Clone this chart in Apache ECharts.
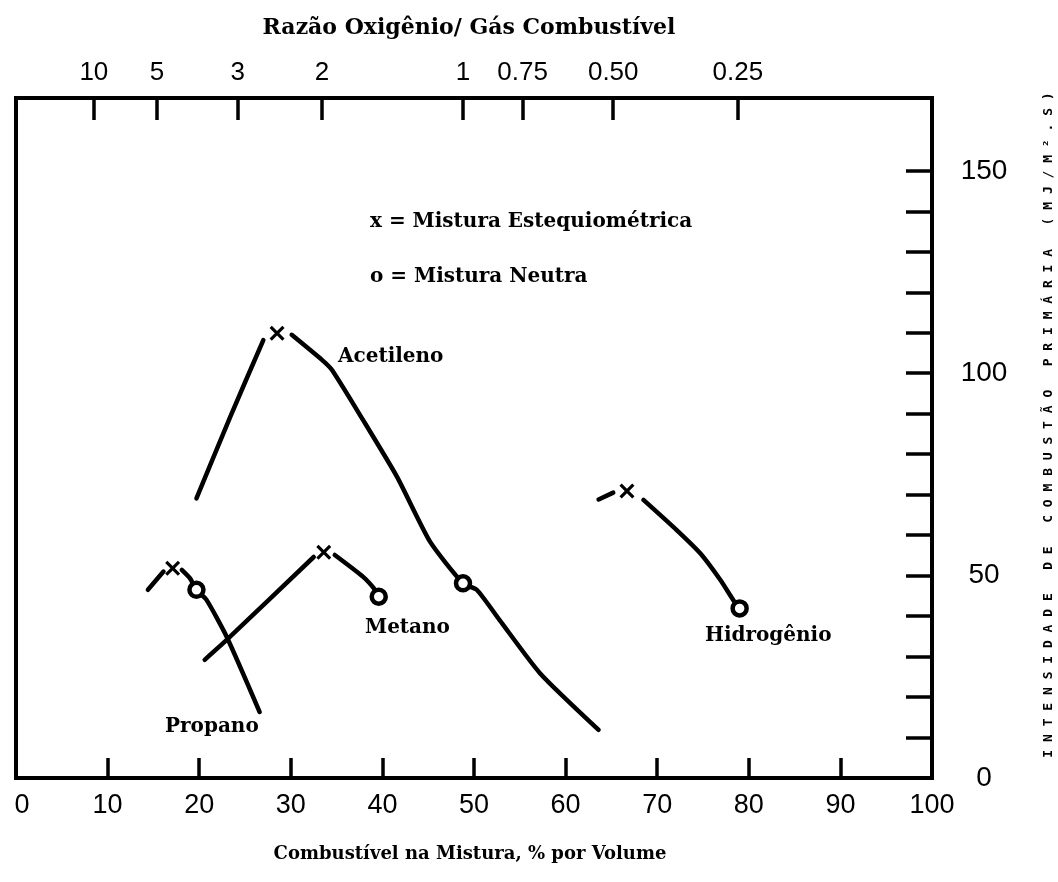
<!DOCTYPE html>
<html>
<head>
<meta charset="utf-8">
<script src="https://cdn.jsdelivr.net/npm/echarts@6/dist/echarts.min.js"></script>
<style>
  html, body { margin: 0; padding: 0; background: #fff; }
  #chart { width: 1058px; height: 882px; }
</style>
</head>
<body>
<div id="chart"></div>
<script>
// bottom axis: fuel in the mixture, % by volume
const bottomTicks = [10, 20, 30, 40, 50, 60, 70, 80, 90];
// top axis: oxygen / fuel gas ratio, placed at the matching fuel %
const topTickPos = [8.5, 15.4, 24.2, 33.4, 48.8, 55.3, 65.2, 78.8];
const topTickLabels = ['10', '5', '3', '2', '1', '0.75', '0.50', '0.25'];
// right axis: primary combustion intensity
const rightTicks = [10, 20, 30, 40, 50, 60, 70, 80, 90, 100, 110, 120, 130, 140, 150];
const rightLabels = [0, 50, 100, 150];

// curves, [fuel %, intensity]; split where the line is broken by an "x"
const acetilenoLeft = [[19.7, 69.1], [23.4, 89.3], [27.0, 108.2]];
const acetilenoRight = [[30.1, 109.5], [33.4, 103.3], [34.5, 100.8], [37.9, 88.4], [41.6, 74.4],
  [45.2, 58.4], [48.8, 48.1], [50.3, 46.5], [52.8, 39.0], [57.2, 25.9], [63.6, 11.9]];
const propanoLeft = [[14.4, 46.5], [16.1, 51.0]];
const propanoRight = [[18.1, 51.4], [19.0, 49.3], [19.7, 46.5], [20.8, 44.0], [23.0, 34.9], [26.6, 16.3]];
const metanoLeft = [[20.6, 29.2], [23.0, 34.1], [32.5, 54.6]];
const metanoRight = [[34.8, 55.1], [37.9, 49.7], [39.2, 46.5], [39.6, 44.8]];
const hidrogenioLeft = [[63.6, 68.8], [65.2, 70.5]];
const hidrogenioRight = [[68.5, 68.7], [72.1, 61.3], [74.7, 55.5], [76.9, 48.9], [78.3, 44.0], [79.0, 41.9]];

// x = stoichiometric mixture, o = neutral mixture
const stoichPoints = [[17.1, 51.8], [28.5, 109.9], [33.6, 55.8], [66.7, 70.9]];
const neutralPoints = [[19.7, 46.5], [39.6, 44.8], [48.8, 48.1], [79.0, 41.9]];

const chart = echarts.init(document.getElementById('chart'));

const sans = 'Liberation Sans';
const serifFont = 'bold 20px "DejaVu Serif"';
// an "x" drawn as a filled outline
const crossPath = 'path://M0,1.5L1.5,0L5,3.5L8.5,0L10,1.5L6.5,5L10,8.5L8.5,10L5,6.5L1.5,10L0,8.5L3.5,5Z';

function curve(name, data) {
  return {
    name: name,
    type: 'line',
    data: data,
    smooth: 0.2,
    symbol: 'none',
    lineStyle: { color: '#000', width: 4.5, cap: 'round', join: 'round' },
    silent: true
  };
}

function note(text, x, y, extra) {
  return {
    type: 'text', x: x, y: y,
    style: Object.assign({ text: text, font: serifFont, fill: '#000', verticalAlign: 'middle' }, extra || {})
  };
}

const option = {
  backgroundColor: '#fff',
  animation: false,
  grid: {
    left: 16, right: 126, top: 98, bottom: 104,
    show: true, borderColor: '#000', borderWidth: 4
  },
  xAxis: [
    {
      type: 'value', position: 'bottom', min: 0, max: 100, interval: 10,
      axisLine: { show: false, onZero: false },
      splitLine: { show: false },
      axisTick: {
        inside: true, length: 20, customValues: bottomTicks,
        lineStyle: { color: '#000', width: 3.5 }
      },
      axisLabel: {
        color: '#000', fontFamily: sans, fontSize: 27, margin: 14,
        formatter: function (v) { return v === 0 ? '{z|0}' : String(v); },
        rich: { z: { fontFamily: sans, fontSize: 27, color: '#000', padding: [0, 0, 0, 12] } }
      }
    },
    {
      type: 'value', position: 'top', min: 0, max: 100,
      axisLine: { show: false, onZero: false },
      splitLine: { show: false },
      axisTick: {
        inside: true, length: 22, customValues: topTickPos,
        lineStyle: { color: '#000', width: 3.5 }
      },
      axisLabel: {
        color: '#000', fontFamily: sans, fontSize: 26, margin: 12,
        customValues: topTickPos,
        formatter: function (v) { return topTickLabels[topTickPos.indexOf(v)]; }
      }
    }
  ],
  yAxis: {
    type: 'value', position: 'right', min: 0, max: 168,
    axisLine: { show: false, onZero: false },
    splitLine: { show: false },
    axisTick: {
      inside: true, length: 26, customValues: rightTicks,
      lineStyle: { color: '#000', width: 3.5 }
    },
    axisLabel: {
      color: '#000', fontFamily: sans, fontSize: 28, margin: 52, align: 'center',
      customValues: rightLabels
    }
  },
  series: [
    curve('Acetileno', acetilenoLeft),
    curve('Acetileno', acetilenoRight),
    curve('Propano', propanoLeft),
    curve('Propano', propanoRight),
    curve('Metano', metanoLeft),
    curve('Metano', metanoRight),
    curve('Hidrogênio', hidrogenioLeft),
    curve('Hidrogênio', hidrogenioRight),
    {
      name: 'Mistura Estequiométrica',
      type: 'scatter',
      data: stoichPoints,
      symbol: crossPath,
      symbolSize: 15,
      itemStyle: { color: '#000', opacity: 1 },
      silent: true
    },
    {
      name: 'Mistura Neutra',
      type: 'scatter',
      data: neutralPoints,
      symbol: 'circle',
      symbolSize: 14,
      itemStyle: { color: '#fff', borderColor: '#000', borderWidth: 4.5, opacity: 1 },
      silent: true,
      z: 5
    }
  ],
  graphic: [
    note('Razão Oxigênio/ Gás Combustível', 469, 28, { align: 'center', font: 'bold 22px "DejaVu Serif"' }),
    note('Combustível na Mistura, % por Volume', 470, 854, { align: 'center', font: 'bold 18px "DejaVu Serif"' }),
    note('x = Mistura Estequiométrica', 370, 222),
    note('o = Mistura Neutra', 370, 277),
    note('Acetileno', 338, 357),
    note('Metano', 365, 628),
    note('Propano', 165, 727),
    note('Hidrogênio', 705, 636),
    {
      type: 'text', x: 1049, y: 425, rotation: Math.PI / 2,
      style: {
        text: 'I N T E N S I D A D E   D E   C O M B U S T Ã O   P R I M Á R I A   ( M J / M ² . S )',
        font: 'bold 13px "DejaVu Sans Mono"', fill: '#000', align: 'center', verticalAlign: 'middle'
      }
    }
  ]
};

chart.setOption(option);
</script>
</body>
</html>
